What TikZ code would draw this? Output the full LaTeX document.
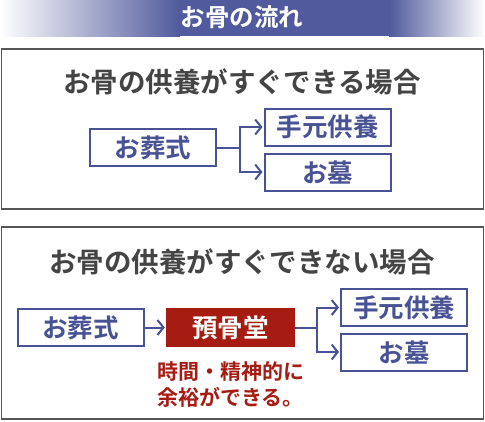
\documentclass[tikz,border=0pt]{standalone}
\usepackage{fontspec}
\newfontfamily\jp{Noto Sans CJK JP}[BoldFont={Noto Sans CJK JP Bold}]
\usetikzlibrary{arrows.meta}
\definecolor{hdr}{RGB}{80,90,156}
\definecolor{bl}{RGB}{72,82,148}
\definecolor{rd}{RGB}{166,27,18}
\definecolor{gr}{RGB}{85,85,85}
\definecolor{tt}{RGB}{68,68,68}
\begin{document}
\begin{tikzpicture}[x=1pt,y=-1pt,
  every node/.style={font=\jp\bfseries},
  bbox/.style={draw=bl,line width=2pt,fill=white,text=bl,inner sep=0pt,
    minimum width=126pt,minimum height=37pt,font=\jp\bfseries\fontsize{25.5}{25.5}\selectfont},
  redbox/.style={fill=rd,text=white,inner sep=0pt,
    minimum width=129pt,minimum height=39pt,font=\jp\bfseries\fontsize{25.5}{25.5}\selectfont},
  frame/.style={draw=gr,line width=1.5pt},
  ttl/.style={text=tt,font=\jp\bfseries\fontsize{27.5}{27.5}\selectfont},
  conn/.style={draw=bl,line width=2pt},
  arr/.style={conn,-{Straight Barb[length=6pt,width=15pt]},shorten >=1pt}]
\useasboundingbox (0,0) rectangle (485,421);
% header band
\shade[left color=white,right color=hdr] (0,0) rectangle (180,36);
\fill[hdr] (179,0) rectangle (390,36);
\shade[left color=hdr,right color=white] (389,0) rectangle (485,36);
\node[text=white,font=\jp\bfseries\fontsize{24.5}{24.5}\selectfont] (hd) at (242,17) {お骨の流れ};
% box 1
\draw[frame] (1.5,49) rectangle (483.5,209);
\node[ttl] (t1) at (242,82) {お骨の供養がすぐできる場合};
\node[bbox] (a1) at (153,147.5) {お葬式};
\node[bbox] (b1) at (327.5,127) {手元供養};
\node[bbox] (c1) at (327.5,172) {お墓};
\draw[conn] (a1.east) -- ++(23,0) coordinate (j1);
\draw[arr] (j1) |- (b1.west);
\draw[arr] (j1) |- (c1.west);
% box 2
\draw[frame] (1.5,227) rectangle (483.5,419);
\node[ttl] (t2) at (242,262) {お骨の供養がすぐできない場合};
\node[bbox] (a2) at (80.5,327.5) {お葬式};
\node[redbox] (r2) at (230.5,327.5) {預骨堂};
\node[bbox] (b2) at (404,307.5) {手元供養};
\node[bbox] (c2) at (404,352) {お墓};
\draw[arr] (a2.east) -- (r2.west);
\draw[conn] (r2.east) -- ++(22,0) coordinate (j2);
\draw[arr] (j2) |- (b2.west);
\draw[arr] (j2) |- (c2.west);
\node[text=rd,font=\jp\bfseries\fontsize{21}{26}\selectfont,align=center] (note) at (230.5,385) {時間・精神的に\\余裕ができる。};
\end{tikzpicture}
\end{document}
